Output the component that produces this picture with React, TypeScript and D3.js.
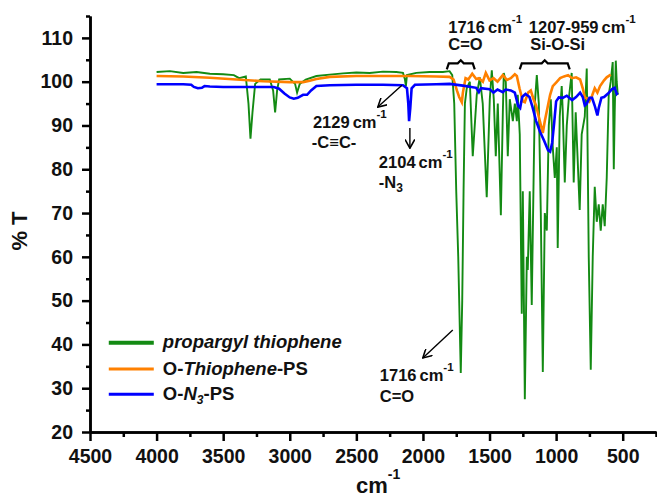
import * as d3 from "d3";
import { useRef, useEffect } from "react";

// wavenumber (cm-1), %T
const propargylThiophene: [number, number][] = [
  [4000, 102.2], [3900, 102.4], [3800, 102.0], [3700, 102.2], [3600, 101.8], [3500, 101.7],
  [3420, 101.5], [3380, 100.8], [3330, 101.2], [3310, 95], [3295, 87], [3280, 93], [3260, 99.5],
  [3220, 100.5], [3150, 100.5], [3125, 98], [3110, 93], [3095, 98], [3080, 100.5], [3000, 100.7],
  [2960, 99.5], [2945, 97.5], [2925, 99.5], [2880, 100.5], [2800, 101.3], [2700, 101.6],
  [2600, 101.9], [2500, 102.1], [2400, 102.0], [2300, 102.3], [2200, 102.2], [2150, 102.0],
  [2135, 100.5], [2128, 99], [2120, 101.5], [2050, 102.0], [1950, 102.2], [1850, 102.2],
  [1800, 102.4], [1780, 101.5], [1765, 95], [1750, 75], [1735, 60], [1716, 33.5], [1705, 50],
  [1695, 75], [1685, 95], [1671, 98.5], [1648, 100], [1626, 83], [1596, 97], [1573, 101],
  [1551, 95], [1521, 73.6], [1498, 96], [1483, 102.6], [1468, 96], [1453, 83], [1438, 95],
  [1415, 69.5], [1400, 93], [1393, 102], [1378, 100], [1363, 83], [1348, 96], [1325, 91],
  [1310, 95], [1295, 91], [1288, 97], [1273, 88], [1258, 47], [1250, 75], [1235, 27.5],
  [1220, 60], [1213, 57], [1198, 75], [1183, 49], [1168, 80], [1160, 95], [1145, 101.5],
  [1130, 95], [1115, 70], [1100, 33.7], [1085, 70], [1070, 66], [1055, 90], [1040, 96],
  [1025, 85], [1010, 78], [995, 85], [988, 62], [973, 92], [958, 99], [950, 93], [935, 77],
  [920, 90], [905, 96], [883, 102], [868, 77], [853, 93], [838, 82], [823, 70.7], [808, 88],
  [785, 92], [770, 103], [762, 80], [755, 60], [740, 34.2], [725, 60], [710, 76], [695, 68],
  [680, 72], [665, 66], [650, 72], [635, 67], [620, 78], [605, 97], [590, 100], [575, 104.5],
  [567, 80], [560, 93], [552, 104.8], [545, 100], [537, 97],
];

const oThiophenePS: [number, number][] = [
  [4000, 101.3], [3800, 101.2], [3600, 100.9], [3400, 100.5], [3200, 100.1], [3000, 99.9],
  [2900, 99.9], [2850, 100.2], [2800, 100.6], [2700, 101.1], [2500, 101.3], [2300, 101.3],
  [2100, 101.3], [1900, 101.2], [1800, 101.1], [1770, 100.5], [1745, 98.0], [1728, 96.5],
  [1708, 95.3], [1700, 97.5], [1680, 100.8], [1660, 100.5], [1630, 101.8], [1600, 100.6],
  [1580, 100.8], [1550, 100.0], [1528, 102.0], [1500, 100.3], [1470, 100.8], [1440, 100.0],
  [1400, 101.5], [1370, 100.4], [1340, 100.8], [1310, 101.7], [1295, 101.3], [1275, 98.5],
  [1250, 95.5], [1235, 95.3], [1210, 97.5], [1190, 98.0], [1170, 96.0], [1150, 94.5],
  [1130, 92], [1110, 89.5], [1100, 88.3], [1085, 91], [1065, 94], [1045, 97.0], [1025, 99.0],
  [1000, 99.8], [970, 100.8], [940, 101.2], [910, 101.5], [880, 100.8], [850, 101.0],
  [820, 100.5], [800, 98.5], [785, 96.5], [770, 96.2], [750, 95.5], [730, 96.8], [710, 98.5],
  [690, 97.5], [670, 99.0], [640, 100.3], [620, 101.0], [590, 101.6],
];

const oN3PS: [number, number][] = [
  [4000, 99.4], [3900, 99.4], [3800, 99.4], [3740, 99.3], [3720, 98.8], [3690, 98.5],
  [3660, 98.6], [3640, 99.0], [3600, 98.9], [3500, 98.8], [3400, 98.8], [3300, 98.8],
  [3200, 98.8], [3120, 98.8], [3080, 98.4], [3040, 97.3], [3000, 96.4], [2970, 96.1],
  [2940, 96.3], [2900, 97.0], [2870, 97.0], [2840, 98.0], [2800, 99.0], [2700, 99.2],
  [2500, 99.3], [2300, 99.3], [2150, 99.2], [2120, 98.5], [2110, 95], [2104, 91], [2095, 94],
  [2085, 98.5], [2060, 99.3], [1900, 99.4], [1800, 99.5], [1700, 99.1], [1600, 98.6],
  [1580, 97.6], [1565, 98.5], [1500, 98.3], [1470, 97.5], [1440, 98.2], [1400, 97.6],
  [1380, 98.2], [1340, 98], [1310, 97.5], [1285, 94.5], [1270, 94], [1255, 96.5], [1230, 97.2],
  [1200, 96.5], [1180, 94.5], [1150, 91], [1120, 88.5], [1090, 86.5], [1060, 84.3],
  [1045, 84.0], [1030, 86], [1015, 90.5], [1000, 95.5], [980, 96.4], [950, 96.3], [920, 96.8],
  [880, 95.8], [850, 96.5], [820, 97.5], [800, 96.5], [785, 94.6], [770, 95], [750, 96.3],
  [730, 96.3], [710, 94.5], [690, 92.3], [680, 94], [660, 96.3], [640, 96.5], [610, 97.3],
  [580, 98.3], [560, 98.6], [545, 97.2], [537, 97.5],
];

const xMajorTicks = [4500, 4000, 3500, 3000, 2500, 2000, 1500, 1000, 500];
const xMinorTicks = [4250, 3750, 3250, 2750, 2250, 1750, 1250, 750, 250];
const yMajorTicks = [20, 30, 40, 50, 60, 70, 80, 90, 100, 110];
const yMinorTicks = [25, 35, 45, 55, 65, 75, 85, 95, 105, 115];

const width = 657;
const height = 502;
const margin = { top: 16, left: 90, right: 1, bottom: 70 };
const FONT = "'Liberation Sans', Arial, sans-serif";

// label with a raised "-1"
const Wn = ({ x, y, label }: { x: number; y: number; label: string }) => (
  <text x={x} y={y}>
    {label}<tspan dx={3}>cm</tspan><tspan fontSize={11.5} dy={-10}>-1</tspan>
  </text>
);

const App = () => {
  const xAxisRef = useRef<SVGGElement>(null);
  const yAxisRef = useRef<SVGGElement>(null);

  const x = d3.scaleLinear().domain([4500, 250]).range([margin.left, width - margin.right]);
  const y = d3.scaleLinear().domain([20, 115]).range([height - margin.bottom, margin.top]);

  const line = d3.line<[number, number]>()
    .x(d => x(d[0]))
    .y(d => y(d[1]));

  useEffect(() => {
    const gx = d3.select(xAxisRef.current);
    gx.selectAll("*").remove();
    gx.append("g").call(d3.axisBottom(x).tickValues(xMajorTicks).tickSize(9).tickSizeOuter(0).tickPadding(8).tickFormat(d3.format("d")));
    gx.append("g").call(d3.axisBottom(x).tickValues(xMinorTicks).tickSize(5).tickSizeOuter(0).tickFormat(() => ""));
    gx.selectAll("path, line").attr("stroke", "#000").attr("stroke-width", 2.5);
    gx.selectAll("text").attr("font-family", FONT).attr("font-weight", "bold").attr("font-size", 19.5).attr("fill", "#111");

    const gy = d3.select(yAxisRef.current);
    gy.selectAll("*").remove();
    gy.append("g").call(d3.axisLeft(y).tickValues(yMajorTicks).tickSize(8).tickSizeOuter(0).tickPadding(9));
    gy.append("g").call(d3.axisLeft(y).tickValues(yMinorTicks).tickSize(4).tickSizeOuter(0).tickFormat(() => ""));
    gy.selectAll("path, line").attr("stroke", "#000").attr("stroke-width", 2.5);
    gy.selectAll("text").attr("font-family", FONT).attr("font-weight", "bold").attr("font-size", 19.5).attr("fill", "#111");
  });

  const bracket = (w1: number, w2: number, v: number) => {
    const x1 = x(w1), x2 = x(w2), xm = (x1 + x2) / 2, yy = y(v);
    return `M${x1},${yy + 6} L${x1 + 2},${yy} L${xm - 3},${yy} L${xm},${yy - 3} L${xm + 3},${yy} L${x2 - 2},${yy} L${x2},${yy + 6}`;
  };

  const legend = [
    { color: "#138a13", w: 4, v: 40.4 },
    { color: "#ff8000", w: 3, v: 34.4 },
    { color: "#0000ff", w: 3, v: 28.6 },
  ];

  const txt = { fontFamily: FONT, fontWeight: "bold", fill: "#111" } as const;

  return (
    <svg width={width} height={height} style={{ position: "absolute", left: 0, top: 0, background: "#fff" }}>
      <defs>
        <marker id="arr" viewBox="0 0 10 10" refX="9" refY="5" markerWidth="7" markerHeight="7" orient="auto">
          <path d="M0,0 L9,5 L0,10" fill="none" stroke="#000" strokeWidth="1.6" />
        </marker>
      </defs>

      <path d={line(propargylThiophene) ?? ""} fill="none" stroke="#138a13" strokeWidth={1.9} />
      <path d={line(oThiophenePS) ?? ""} fill="none" stroke="#ff8000" strokeWidth={2.6} />
      <path d={line(oN3PS) ?? ""} fill="none" stroke="#0000ff" strokeWidth={2.6} />

      <g ref={xAxisRef} transform={`translate(0,${height - margin.bottom})`} />
      <g ref={yAxisRef} transform={`translate(${margin.left},0)`} />

      {/* axis titles */}
      <text {...txt} fontSize={22} transform={`translate(27,231) rotate(-90)`} textAnchor="middle">% T</text>
      <text {...txt} fontSize={22} x={356} y={493}>cm<tspan fontSize={14} dy={-14}>-1</tspan></text>

      {/* brackets */}
      <path d={bracket(1821, 1611, 104.2)} fill="none" stroke="#000" strokeWidth={2.2} />
      <path d={bracket(1273, 898, 104.2)} fill="none" stroke="#000" strokeWidth={2.2} />

      {/* annotations */}
      <g {...txt} fontSize={16.5}>
        <Wn x={x(1810)} y={y(111.1)} label="1716" />
        <text x={x(1810)} y={y(107.2)}>C=O</text>
        <Wn x={x(1205)} y={y(111.1)} label="1207-959" />
        <text x={x(1195)} y={y(107.2)}>Si-O-Si</text>

        <Wn x={x(2826)} y={y(89.4)} label="2129" />
        <text x={x(2834)} y={y(84.8)}>-C≡C-</text>
        <Wn x={x(2331)} y={y(80.3)} label="2104" />
        <text x={x(2331)} y={y(75.8)}>-N<tspan fontSize={12} dy={4}>3</tspan></text>
        <Wn x={x(2324)} y={y(31.6)} label="1716" />
        <text x={x(2324)} y={y(26.8)}>C=O</text>
      </g>
      <line x1={x(2158)} y1={y(99.2)} x2={x(2339)} y2={y(94.2)} stroke="#000" strokeWidth={1.4} markerEnd="url(#arr)" />
      <line x1={x(2098)} y1={y(89.4)} x2={x(2098)} y2={y(84.8)} stroke="#000" strokeWidth={1.4} markerEnd="url(#arr)" />
      <line x1={x(1776)} y1={y(43.3)} x2={x(2001)} y2={y(36.9)} stroke="#000" strokeWidth={1.4} markerEnd="url(#arr)" />

      {/* legend */}
      {legend.map((l, i) => (
        <line key={i} x1={x(4359)} x2={x(4021)} y1={y(l.v)} y2={y(l.v)} stroke={l.color} strokeWidth={l.w} />
      ))}
      <g {...txt} fontSize={18.5}>
        <text x={x(3953)} y={y(39.1)} fontStyle="italic">propargyl thiophene</text>
        <text x={x(3953)} y={y(33.1)}>O-<tspan fontStyle="italic">Thiophene</tspan>-PS</text>
        <text x={x(3953)} y={y(27.2)}>O-<tspan fontStyle="italic">N</tspan><tspan fontStyle="italic" fontSize={12} dy={4}>3</tspan><tspan dy={-4}>-PS</tspan></text>
      </g>
    </svg>
  );
};

export default App;
